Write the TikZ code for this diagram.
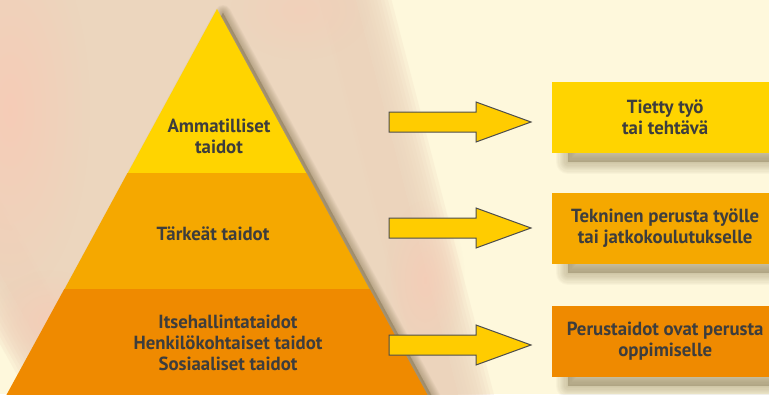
\documentclass[tikz,border=0pt]{standalone}
\usepackage{fontspec}
\setmainfont{PT Sans}[FakeStretch=0.99]
\usetikzlibrary{fadings}
\definecolor{bgc}{HTML}{FEF8DC}
\definecolor{blobc}{HTML}{ECD4BC}
\definecolor{pinkc}{HTML}{F7CBB6}
\definecolor{ylwc}{HTML}{FFD400}
\definecolor{midc}{HTML}{F5A800}
\definecolor{lowc}{HTML}{EF8A00}
\definecolor{arrc}{HTML}{FFCC00}
\definecolor{arrline}{HTML}{4D4D4D}
\definecolor{txtc}{HTML}{3D3D3D}
\definecolor{shadc}{HTML}{7E6E48}
\tikzfading[name=softglow, inner color=transparent!0, outer color=transparent!100]
\newcommand\mysoftfill[4]{%
  \foreach \k in {1,...,10}{%
    \filldraw[#1, opacity=#4, line width={(#2)*\k/10*1pt}, line join=round] #3;}%
}
\begin{document}
\begin{tikzpicture}[x=1pt,y=-1pt,
  txt/.style={text=txtc, font=\bfseries\fontsize{19}{21}\selectfont, align=center, inner sep=0pt},
  blockarrow/.style={fill=arrc, draw=arrline, line width=1pt, line join=miter},
  infobox/.style={fill=#1, minimum width=226pt, minimum height=71pt, inner sep=0pt,
    anchor=west, text=txtc, font=\bfseries\fontsize{19}{21}\selectfont, align=center}]
  % background
  \fill[bgc] (0,0) rectangle (769,394);
  \useasboundingbox (0,0) rectangle (769,394);
  % blurred blob behind pyramid
  \mysoftfill{blobc}{70}{(-40,-40)--(345,-40)--(468,434)--(90,434)--(-40,200)--cycle}{0.2}
  \fill[pinkc, path fading=softglow, opacity=0.9] (10,110) ellipse (80 and 190);
  \fill[pinkc, path fading=softglow, opacity=0.7] (50,320) ellipse (60 and 50);
  \fill[pinkc, path fading=softglow, opacity=0.7] (425,280) ellipse (40 and 80);
  \fill[pinkc, path fading=softglow, opacity=0.5] (300,10) ellipse (70 and 50);
  % pyramid shadow
  \mysoftfill{shadc}{16}{(223,13)--(434,400)--(13,400)--cycle}{0.05}
  % pyramid layers
  \fill[ylwc] (217,9) -- (306.5,173.5) -- (127.5,173.5) -- cycle;
  \fill[midc] (127.5,173) -- (306.5,173) -- (369.7,289.5) -- (64.3,289.5) -- cycle;
  \fill[lowc] (64.3,289) -- (369.7,289) -- (432.5,404) -- (1.5,404) -- cycle;
  \node[txt] (l1) at (219,136) {Ammatilliset\\taidot};
  \node[txt] (l2) at (213,234) {Tärkeät taidot};
  \node[txt] (l3) at (228,343) {Itsehallintataidot\\Henkilökohtaiset taidot\\Sosiaaliset taidot};
  % box shadows
  \mysoftfill{shadc}{24}{(568,100)--(785,100)--(785,162)--(568,162)--cycle}{0.04}
  \mysoftfill{shadc}{24}{(568,211)--(785,211)--(785,273)--(568,273)--cycle}{0.04}
  \mysoftfill{shadc}{24}{(568,324)--(785,324)--(785,386)--(568,386)--cycle}{0.04}
  % boxes
  \node[infobox=ylwc] (b1) at (552,117.5) {Tietty työ\\tai tehtävä};
  \node[infobox=midc] (b2) at (552,228.5) {Tekninen perusta työlle\\tai jatkokoulutukselle};
  \node[infobox=lowc] (b3) at (552,341.5) {Perustaidot ovat perusta\\oppimiselle};
  % block arrows
  \foreach \yy/\nm in {122/a1,228/a2,345/a3}{
    \coordinate (\nm) at (389,\yy);
    \draw[blockarrow] (\nm) ++(0,-10) -- ++(87,0) -- ++(0,-10) -- ++(55,20) -- ++(-55,20) -- ++(0,-10) -- ++(-87,0) -- cycle;
  }
\end{tikzpicture}
\end{document}
